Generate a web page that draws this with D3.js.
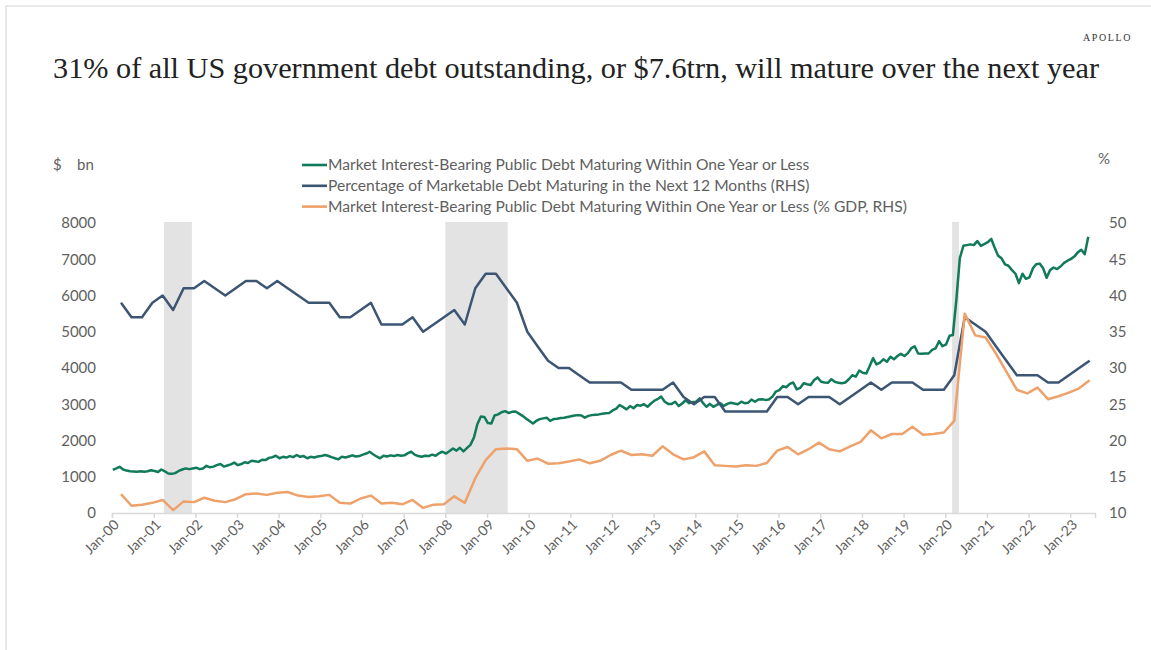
<!DOCTYPE html>
<html>
<head>
<meta charset="utf-8">
<script src="https://cdn.jsdelivr.net/npm/d3@7"></script>
<style>
  body { margin: 0; background: #fff; }
  svg { display: block; }
</style>
</head>
<body>
<div id="chart"></div>
<script>
// Market interest-bearing public debt maturing within one year or less ($ bn), monthly from Jan-00
const debtMaturing = [
  1190, 1230, 1275, 1200, 1170, 1150, 1145, 1140, 1150, 1135, 1150, 1180, // 2000
  1160, 1130, 1200, 1150, 1090, 1080, 1100, 1160, 1200, 1230, 1210, 1230, // 2001
  1250, 1210, 1230, 1300, 1260, 1280, 1320, 1350, 1280, 1310, 1340, 1390, // 2002
  1320, 1350, 1400, 1380, 1440, 1430, 1410, 1470, 1460, 1520, 1540, 1580, // 2003
  1510, 1550, 1530, 1570, 1540, 1600, 1550, 1570, 1510, 1550, 1530, 1560, // 2004
  1570, 1600, 1580, 1540, 1510, 1480, 1550, 1530, 1560, 1590, 1560, 1570, // 2005
  1610, 1640, 1690, 1620, 1560, 1510, 1580, 1560, 1590, 1570, 1600, 1580, // 2006
  1590, 1650, 1690, 1610, 1570, 1550, 1580, 1570, 1610, 1580, 1650, 1690, // 2007
  1640, 1710, 1780, 1720, 1800, 1700, 1790, 1880, 2080, 2450, 2660, 2650, // 2008
  2480, 2470, 2690, 2720, 2780, 2810, 2760, 2790, 2800, 2740, 2680, 2610, // 2009
  2540, 2470, 2540, 2590, 2610, 2630, 2540, 2590, 2600, 2620, 2630, 2650, // 2010
  2670, 2690, 2700, 2690, 2630, 2680, 2700, 2710, 2720, 2740, 2750, 2760, // 2011
  2830, 2880, 2980, 2920, 2860, 2950, 2890, 2980, 2960, 3000, 2930, 3020, // 2012
  3100, 3150, 3210, 3070, 3010, 3010, 3070, 2950, 3020, 3110, 3030, 3060, // 2013
  3070, 3160, 3040, 2930, 3010, 2930, 2980, 3030, 2950, 3010, 3040, 3020, // 2014
  3000, 3070, 3030, 3040, 3130, 3070, 3130, 3140, 3120, 3130, 3210, 3350, // 2015
  3390, 3500, 3470, 3560, 3600, 3410, 3450, 3580, 3550, 3530, 3670, 3740, // 2016
  3620, 3600, 3590, 3690, 3620, 3590, 3580, 3600, 3690, 3800, 3760, 3930, // 2017
  3870, 3850, 4040, 4270, 4100, 4150, 4240, 4170, 4310, 4240, 4330, 4390, // 2018
  4330, 4410, 4540, 4600, 4400, 4390, 4400, 4400, 4500, 4540, 4740, 4600, // 2019
  4650, 4890, 4910, 5900, 7030, 7370, 7390, 7410, 7390, 7500, 7370, 7420, // 2020
  7470, 7560, 7330, 7100, 7030, 6860, 6820, 6700, 6600, 6340, 6600, 6460, // 2021
  6500, 6750, 6860, 6880, 6750, 6490, 6700, 6770, 6730, 6800, 6900, 6960, // 2022
  7010, 7080, 7190, 7260, 7140, 7620                                      // 2023
];

// Percentage of marketable debt maturing in the next 12 months (RHS), quarterly from Mar-00
const pctMarketable = [
  39, 37, 37, 39,  40, 38, 41, 41,  42, 41, 40, 41,  42, 42, 41, 42,
  41, 40, 39, 39,  39, 37, 37, 38,  39, 36, 36, 36,  37, 35, 36, 37,
  38, 36, 41, 43,  43, 41, 39, 35,  33, 31, 30, 30,  29, 28, 28, 28,
  28, 27, 27, 27,  27, 28, 26, 25,  26, 26, 24, 24,  24, 24, 24, 26,
  26, 25, 26, 26,  26, 25, 26, 27,  28, 27, 28, 28,  28, 27, 27, 27,
  29, 37, 36, 35,  33, 31, 29, 29,  29, 28, 28, 29,  30, 31
];

// Debt maturing within one year or less as % of GDP (RHS), quarterly from Mar-00
const pctGdp = [
  12.6, 11.0, 11.15, 11.4,  11.8, 10.4, 11.6, 11.5,  12.1, 11.7, 11.5, 11.9,
  12.6, 12.7, 12.5, 12.8,   12.9, 12.4, 12.2, 12.3,  12.5, 11.4, 11.3, 12.0,
  12.4, 11.3, 11.4, 11.2,   11.8, 10.7, 11.15, 11.2, 12.3, 11.4, 14.8, 17.3,
  18.8, 18.9, 18.8, 17.2,   17.5, 16.8, 16.85, 17.1, 17.4, 16.85, 17.2, 18.0,
  18.6, 18.0, 18.1, 17.9,   19.2, 18.1, 17.4, 17.7,  18.5, 16.6, 16.5, 16.4,
  16.6, 16.5, 16.9, 18.6,   19.1, 18.1, 18.8, 19.7,  18.8, 18.5, 19.2, 19.8,
  21.4, 20.3, 20.9, 20.9,   21.9, 20.8, 20.9, 21.1,  22.7, 37.5, 34.5, 34.2,
  32.0, 29.5, 27.0, 26.5,   27.3, 25.7, 26.1, 26.6,  27.2, 28.3
];

const recessions = [["2001-04-01", "2001-12-01"], ["2008-01-01", "2009-07-01"], ["2020-03-01", "2020-05-01"]];
const leftTicks = [0, 1000, 2000, 3000, 4000, 5000, 6000, 7000, 8000];
const rightTicks = [10, 15, 20, 25, 30, 35, 40, 45, 50];
const tickYears = d3.range(2000, 2024);
const seriesNames = [
  "Market Interest-Bearing Public Debt Maturing Within One Year or Less",
  "Percentage of Marketable Debt Maturing in the Next 12 Months (RHS)",
  "Market Interest-Bearing Public Debt Maturing Within One Year or Less (% GDP, RHS)"
];
const colors = ["#107a5a", "#3b5573", "#eea16a"];

const W = 1151, H = 650;
const font = "Lato, 'Open Sans', sans-serif";
const grey = "#5f5f5f";

const svg = d3.select("#chart").append("svg")
  .attr("width", W)
  .attr("height", H);

// frame
svg.append("rect")
  .attr("x", 6).attr("y", 6)
  .attr("width", W + 20).attr("height", H + 20)
  .attr("fill", "none")
  .attr("stroke", "#d4d4d4");

// scales
const x = d3.scaleTime()
  .domain([new Date(2000, 0, 1), new Date(2023, 7, 6)])
  .range([112, 1095]);
const yL = d3.scaleLinear().domain([0, 8000]).range([513, 223]);
const yR = d3.scaleLinear().domain([10, 50]).range([513, 223]);

// build series
const green = debtMaturing.map((v, i) => ({ date: new Date(2000, i, 8), v }));
const blue = pctMarketable.map((v, i) => ({ date: new Date(2000, 2 + i * 3, 20), v }));
const orange = pctGdp.map((v, i) => ({ date: new Date(2000, 2 + i * 3, 20), v }));

// title
svg.append("text")
  .attr("x", 53).attr("y", 78)
  .attr("textLength", 1046)
  .attr("lengthAdjust", "spacingAndGlyphs")
  .style("font-family", "'Liberation Serif', 'DejaVu Serif', serif")
  .style("font-size", "30px")
  .style("fill", "#222")
  .text("31% of all US government debt outstanding, or $7.6trn, will mature over the next year");

svg.append("text")
  .attr("x", 1132).attr("y", 41)
  .attr("text-anchor", "end")
  .style("font-family", "'Liberation Serif', serif")
  .style("font-size", "10px")
  .style("letter-spacing", "1.6px")
  .style("fill", "#333")
  .text("APOLLO");

// recession bands
svg.append("g").selectAll("rect")
  .data(recessions)
  .join("rect")
  .attr("x", d => x(new Date(d[0])))
  .attr("width", d => x(new Date(d[1])) - x(new Date(d[0])))
  .attr("y", 222)
  .attr("height", 513 - 222)
  .attr("fill", "#e3e3e3");

// axis titles
const unitL = svg.append("text")
  .attr("x", 53).attr("y", 170)
  .style("font-family", font).style("font-size", "15px").style("fill", grey);
unitL.append("tspan").text("$");
unitL.append("tspan").attr("x", 77).text("bn");
svg.append("text")
  .attr("x", 1098).attr("y", 164)
  .style("font-family", font).style("font-size", "15px").style("fill", grey)
  .text("%");

// left axis
const gL = svg.append("g")
  .attr("transform", "translate(96,0)")
  .call(d3.axisLeft(yL).tickValues(leftTicks).tickSize(0).tickPadding(0).tickFormat(d3.format("d")));
gL.select(".domain").remove();
gL.selectAll("text")
  .style("font-family", font).style("font-size", "15px").attr("fill", grey);

// right axis
const gR = svg.append("g")
  .attr("transform", "translate(1109,0)")
  .call(d3.axisRight(yR).tickValues(rightTicks).tickSize(0).tickPadding(0));
gR.select(".domain").remove();
gR.selectAll("text")
  .style("font-family", font).style("font-size", "15px").attr("fill", grey);

// x axis
const gX = svg.append("g")
  .attr("transform", "translate(0,513)")
  .call(d3.axisBottom(x)
    .tickValues(tickYears.map(y => new Date(y, 0, 1)))
    .tickSize(5)
    .tickFormat(d3.timeFormat("Jan-%y")));
gX.select(".domain").attr("stroke", "#d9d9d9").attr("stroke-width", 1.5);
gX.selectAll(".tick line").attr("stroke", "#d9d9d9").attr("stroke-width", 1.5);
gX.selectAll("text")
  .style("font-family", font).style("font-size", "14px").attr("fill", grey)
  .attr("text-anchor", "end")
  .attr("dy", "0.35em")
  .attr("transform", "translate(4,9) rotate(-45)")
  .attr("y", 0).attr("x", 0);

// lines
const lineL = d3.line().x(d => x(d.date)).y(d => yL(d.v));
const lineR = d3.line().x(d => x(d.date)).y(d => yR(d.v));
const lines = svg.append("g").attr("fill", "none").attr("stroke-width", 2.5).attr("stroke-linejoin", "round");
lines.append("path").datum(green).attr("d", lineL).attr("stroke", colors[0]);
lines.append("path").datum(blue).attr("d", lineR).attr("stroke", colors[1]);
lines.append("path").datum(orange).attr("d", lineR).attr("stroke", colors[2]);

// legend
const leg = svg.append("g").selectAll("g")
  .data(seriesNames)
  .join("g")
  .attr("transform", (d, i) => `translate(302,${165 + i * 20.8})`);
leg.append("line")
  .attr("x1", 0).attr("x2", 25)
  .attr("stroke", (d, i) => colors[i])
  .attr("stroke-width", 2.6);
leg.append("text")
  .attr("x", 26).attr("dy", "0.35em")
  .style("font-family", font).style("font-size", "15.6px").style("fill", grey)
  .text(d => d);
</script>
</body>
</html>
